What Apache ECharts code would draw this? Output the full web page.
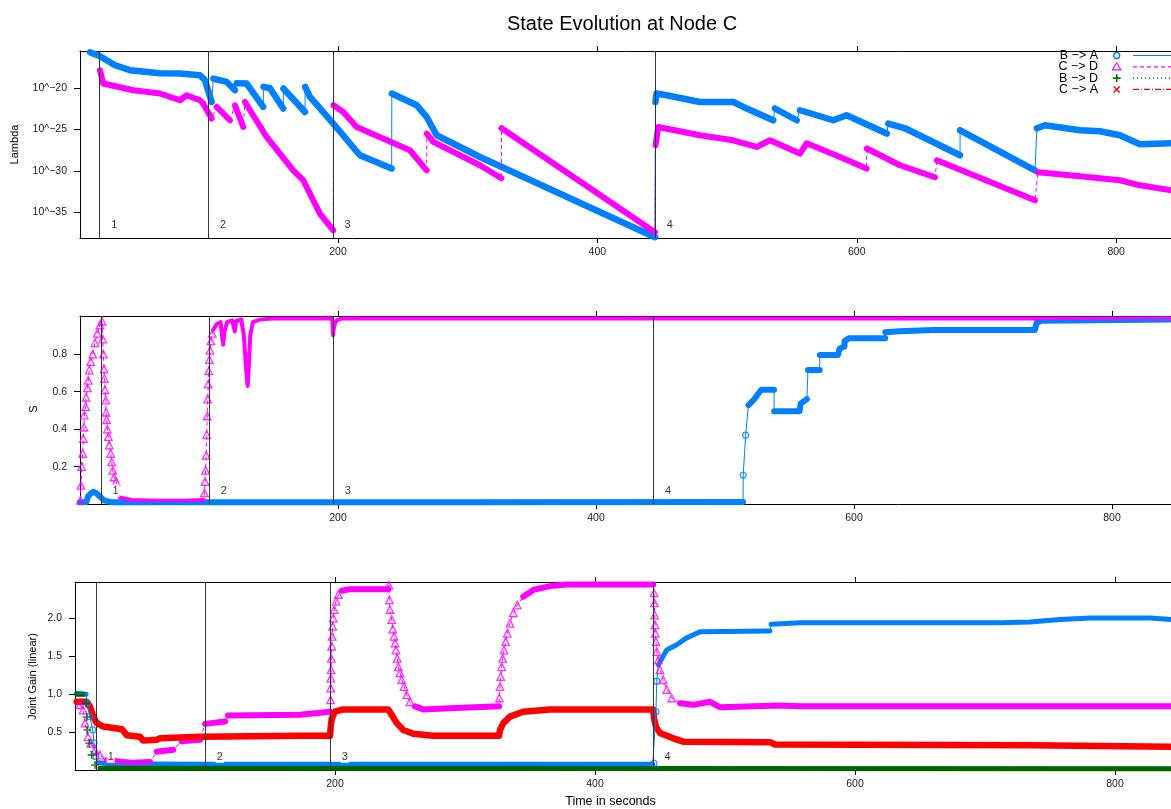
<!DOCTYPE html>
<html>
<head>
<meta charset="utf-8">
<title>State Evolution at Node C</title>
<script src="https://cdn.jsdelivr.net/npm/echarts@6/dist/echarts.min.js"></script>
<style>
  html, body { margin: 0; padding: 0; background: #ffffff; }
  #chart { width: 1171px; height: 809px; }
</style>
</head>
<body>
<div id="chart"></div>
<script>
// ---------- data ----------
const timeTicks = [200, 400, 600, 800];
const lambdaTicks = [-35, -30, -25, -20];
const sTicks = [0.2, 0.4, 0.6, 0.8];
const gainTicks = [0.5, 1.0, 1.5, 2.0];
const eventTimes = [16.3, 100.3, 196.3, 444.7];
const eventLabels = ['1', '2', '3', '4'];
const seriesNames = ['B \u2212> A', 'C \u2212> D', 'B \u2212> D', 'C \u2212> A'];

// Lambda panel: [time (s), log10(lambda)], null = break in the trace
const lambdaBA = [
  [8.8, -15.65], [16.5, -16.13], [28.1, -17.22], [39.6, -17.82], [62.8, -18.19], [78.2, -18.22], [93.6, -18.43], [97.5, -19.03], [102.6, -21.66], null,
  [103.9, -18.83], [114.2, -19.24], [120.6, -20.24], null,
  [121.9, -19.40], [129.6, -19.43], [142.4, -22.26], null,
  [142.5, -19.84], [147.6, -20.0], [157.8, -22.45], null,
  [157.9, -20.04], [174.6, -22.87], null,
  [174.7, -19.84], [178.4, -21.05], [196.4, -24.27], [216.9, -28.10], [241.4, -29.71], null,
  [241.5, -20.64], [260.7, -22.06], [268.4, -23.47], [276.1, -25.68], [309.5, -28.31], [444.4, -38.0], null,
  [444.8, -21.66], [445.6, -20.64], [453.4, -20.85], [479.0, -21.66], [504.8, -21.66], [512.5, -22.26], [535.6, -23.87], null,
  [536.9, -22.45], [553.7, -23.87], null,
  [556.2, -22.66], [581.9, -23.87], [592.2, -23.26], [623.1, -25.48], null,
  [624.3, -24.27], [633.3, -24.68], [637.2, -24.84], [679.6, -28.1], null,
  [679.7, -25.08], [737.4, -29.92], null,
  [738.9, -24.84], [745.1, -24.47], [772.1, -25.08], [787.5, -25.2], [802.9, -25.68], [818.3, -26.77], [845, -26.65]
];
const lambdaCD = [
  [16.5, -17.82], [19.0, -19.43], [42.2, -20.24], [62.8, -20.64], [78.2, -21.45], [83.3, -20.85], [93.6, -21.45], [95.9, -21.81], [102.6, -23.66], null,
  [106.5, -22.26], [116.7, -23.87], null,
  [120.6, -22.06], [127.0, -24.68], null,
  [128.3, -21.66], [145.0, -25.89], [165.5, -29.92], [173.2, -31.12], [186.1, -35.15], [196.4, -37.17], null,
  [196.5, -22.06], [204.1, -22.87], [214.4, -24.68], [255.5, -27.5], [268.4, -29.92], null,
  [268.5, -25.48], [273.5, -26.49], [309.5, -29.31], [326.0, -30.88], null,
  [326.1, -24.84], [444.4, -37.41], null,
  [444.8, -26.9], [446.9, -24.68], [479.1, -25.68], [504.6, -26.29], [522.8, -27.1], [533.1, -26.29], [556.2, -27.9], [561.4, -26.65], [587.1, -28.31], [607.6, -29.71], null,
  [607.7, -27.29], [633.3, -29.31], [660.3, -30.76], null,
  [661.8, -28.71], [737.4, -33.54], null,
  [739.7, -30.16], [772.1, -30.64], [802.9, -31.12], [818.3, -31.73], [845, -32.4]
];

// S panel
const sBA = [
  [0, 0.01], [5, 0.012], [6.2, 0.04], [8, 0.055], [10.3, 0.066], [12.4, 0.06], [15.5, 0.04], [18.6, 0.02], [25, 0.01], [300, 0.01], [514.0, 0.012], null,
  [518.2, 0.528], [522.5, 0.558], [525.9, 0.59], [528.1, 0.61], [538.0, 0.61], null,
  [538.1, 0.496], [557.8, 0.496], [558.7, 0.537], [563.5, 0.56], null,
  [564.3, 0.715], [573.4, 0.715], null,
  [573.5, 0.795], [587.5, 0.795], [588.9, 0.83], [592.6, 0.84], [592.7, 0.87], [596.0, 0.884], [624.2, 0.884], null,
  [624.3, 0.916], [635.6, 0.922], [661.0, 0.928], [740.2, 0.928], [741.6, 0.967], [745.8, 0.978], [845, 0.985]
];
const sBAPts = [[514.1, 0.155], [516.0, 0.368]];
const sCD = [
  [31, 0.035], [40, 0.022], [60, 0.018], [80, 0.018], [96, 0.022], null,
  [103.3, 0.93], [106, 0.96], [109, 0.97], [110, 0.90], [111, 0.85], [112, 0.92], [114, 0.97], [118, 0.98], [120, 0.92], [121, 0.975],
  [125, 0.985], [127, 0.90], [128, 0.80], [129, 0.70], [130, 0.63], [131, 0.75], [132, 0.90], [134, 0.97], [140, 0.985], [150, 0.99],
  [195.5, 0.99], [196.2, 0.90], [196.6, 0.93], [197.5, 0.96], [199, 0.98], [203, 0.99], [845, 0.99]
];
const sCDPts = [
  [0.3, 0.02], [0.8, 0.10], [1.3, 0.20], [2.1, 0.27], [2.6, 0.35], [3.1, 0.41], [3.3, 0.475], [4.4, 0.52], [4.7, 0.57], [5.7, 0.62],
  [6.4, 0.66], [7.2, 0.715], [8.3, 0.76], [9.9, 0.80], [11.6, 0.86], [13.4, 0.91], [15.5, 0.955], [17.1, 0.975],
  [17.6, 0.88], [18.1, 0.80], [18.6, 0.72], [18.9, 0.67], [19.4, 0.61], [20.0, 0.555], [20.2, 0.49], [20.7, 0.45], [21.2, 0.40],
  [22.0, 0.36], [22.7, 0.315], [23.8, 0.27], [24.6, 0.225], [25.4, 0.18], [26.4, 0.145], [28.0, 0.12],
  [96.5, 0.06], [97.0, 0.12], [97.4, 0.18], [97.8, 0.26], [98.2, 0.37], [98.6, 0.47], [99.0, 0.56], [99.4, 0.64], [99.8, 0.71],
  [100.3, 0.77], [100.8, 0.82], [101.5, 0.87], [102.5, 0.91]
];

// Joint gain panel
const gainBA = [
  [1.3, 1.01], [8.5, 1.0], null,
  [17.9, 0.10], [26.9, 0.085], [100, 0.08], [444.4, 0.08], null,
  [448.7, 1.385], [452.5, 1.5], [455.2, 1.58], [462.8, 1.65], [470.5, 1.74], [480.8, 1.82], [534.6, 1.83], null,
  [535.4, 1.92], [557.7, 1.94], [711.5, 1.94], [734.6, 1.95], [757.7, 1.98], [780.8, 2.0], [826.9, 2.0], [845, 1.98]
];
const gainBAPts = [[9.5, 0.88], [11.5, 0.705], [13.6, 0.53], [14.6, 0.36], [16.2, 0.18], [445.4, 0.09], [446.9, 0.77], [447.5, 1.17]];
const gainCD = [
  [24.4, 0.135], [34.6, 0.113], [44.6, 0.10], [57.7, 0.11], null,
  [62.8, 0.245], [75.6, 0.27], null,
  [82.1, 0.38], [96.2, 0.40], null,
  [100.0, 0.61], [115.4, 0.64], null,
  [117.7, 0.72], [173.1, 0.73], [196.2, 0.77], null,
  [205.2, 2.36], [211.5, 2.38], [241, 2.38], null,
  [261.5, 0.84], [267.9, 0.80], [288.5, 0.815], [326.2, 0.84], null,
  [344.8, 2.28], [352.5, 2.37], [365.4, 2.42], [378.2, 2.44], [444.8, 2.44], null,
  [465.4, 0.88], [475.6, 0.86], [488.5, 0.9], [496, 0.83], [542, 0.85], [557.7, 0.84], [845, 0.84]
];
const gainCDPts = [
  [3.8, 0.86], [6.2, 0.79], [7.7, 0.62], [10.0, 0.44], [12.1, 0.355], [15.4, 0.27], [19.2, 0.2],
  [196.6, 0.925], [196.7, 1.08], [196.8, 1.21], [197.0, 1.32], [197.2, 1.47], [197.4, 1.63], [197.8, 1.76], [198.2, 1.89], [198.6, 2.0],
  [199.4, 2.11], [200.8, 2.22], [202.6, 2.31],
  [241.5, 2.43], [241.8, 2.24], [242.3, 2.11], [243.6, 1.98], [244.4, 1.855], [245.4, 1.76], [246.2, 1.67], [246.9, 1.58], [247.9, 1.47],
  [248.7, 1.36], [250, 1.28], [251.3, 1.19], [253.1, 1.1], [255.2, 0.99], [257.7, 0.90],
  [326.4, 0.95], [326.9, 1.1], [327.5, 1.23], [328.2, 1.36], [329, 1.47], [330, 1.58], [331.3, 1.69], [332.5, 1.80], [334.6, 1.93],
  [337.2, 2.07], [340.2, 2.17],
  [445.4, 2.33], [445.6, 2.2], [445.9, 2.04], [446.2, 1.91], [446.4, 1.80], [446.9, 1.69], [447.5, 1.56], [448.7, 1.45], [450, 1.32],
  [452.5, 1.19], [455.2, 1.06], [459, 0.95]
];
const gainBD = [[1.3, 1.0], [6.2, 1.0], null, [19.2, 0.026], [845, 0.02]];
const gainBDPts = [[8.5, 0.88], [9.0, 0.70], [9.5, 0.53], [11, 0.355], [12.8, 0.2], [15.4, 0.07]];
const gainCA = [
  [1.3, 0.90], [9.0, 0.90], [11.5, 0.84], [14.1, 0.705], [16.7, 0.62], [21.8, 0.575], [32.1, 0.55], [36.2, 0.54], [39.8, 0.46], [50, 0.44],
  [52.5, 0.39], [62.8, 0.40], [65.4, 0.42], [96.2, 0.44], [173.1, 0.455], [196.2, 0.455], [196.7, 0.57], [197.5, 0.68], [200, 0.77],
  [206.4, 0.80], [241, 0.80], [243.6, 0.73], [247.5, 0.62], [252.5, 0.53], [260.2, 0.48], [275.6, 0.455], [326.2, 0.455], [326.9, 0.53],
  [329.5, 0.62], [334.6, 0.705], [344.8, 0.77], [365.4, 0.80], [444.8, 0.80], [445.4, 0.68], [446.9, 0.57], [450, 0.49], [460.2, 0.42],
  [467.9, 0.376], [534.6, 0.37], [538.5, 0.34], [734.6, 0.33], [788.5, 0.32], [845, 0.31]
];

// ---------- styling ----------
const FONT = '"Liberation Sans", Arial, Helvetica, sans-serif';
const INK = '#000';
const TXT = '#222';
const CANVAS_W = 1171;

const look = {
  BA: { color: '#0080ff', symbol: 'circle', size: 6, hollow: true, dash: 'solid' },
  CD: { color: '#ff00ff', symbol: 'triangle', size: 7.5, hollow: true, dash: [4, 3] },
  BD: { color: '#006400', symbol: 'path://M-1,-5H1V-1H5V1H1V5H-1V1H-5V-1H-1Z', size: 8, hollow: false, dash: [1, 3] },
  CA: { color: '#ff0000', symbol: 'path://M-1,-5H1V-1H5V1H1V5H-1V1H-5V-1H-1Z', size: 8, rotate: 45, hollow: false, dash: [6, 2, 1, 2] }
};

// each panel runs off the right edge of the page, so its right side has no frame
const panels = [
  { top: 51, height: 187, left: 80, xMin: 1.1, pxPerSec: 1.297, yMin: -38.1, yMax: -15.5, ticks: lambdaTicks,
    fmt: v => '10^' + (v < 0 ? '\u2212' : '') + Math.abs(v) },
  { top: 316, height: 188, left: 80, xMin: 0, pxPerSec: 1.29, yMin: 0.001, yMax: 1.003, ticks: sTicks,
    fmt: v => v.toFixed(1) },
  { top: 582, height: 188, left: 75, xMin: 0, pxPerSec: 1.30, yMin: 0.004, yMax: 2.474, ticks: gainTicks,
    fmt: v => v.toFixed(1) }
];

const grids = [], xAxes = [], yAxes = [], series = [];
const frame = { show: true, onZero: false, lineStyle: { color: INK, width: 1 } };

panels.forEach((p, i) => {
  const w = CANVAS_W - p.left;
  const xMax = p.xMin + w / p.pxPerSec;
  grids.push({ left: p.left, top: p.top, height: p.height, width: w, show: false, containLabel: false });
  ['bottom', 'top'].forEach(pos => {
    xAxes.push({
      type: 'value', gridIndex: i, position: pos, min: p.xMin, max: xMax,
      axisLine: frame,
      splitLine: { show: false },
      axisTick: { show: true, customValues: timeTicks, length: 5, lineStyle: { color: INK, width: 1 } },
      axisLabel: { show: pos === 'bottom', customValues: timeTicks, fontSize: 10.5, color: TXT, fontFamily: FONT, margin: 9 }
    });
  });
  yAxes.push({
    type: 'value', gridIndex: i, min: p.yMin, max: p.yMax,
    axisLine: frame,
    splitLine: { show: false },
    axisTick: { show: true, customValues: p.ticks, length: 6, lineStyle: { color: INK, width: 1 } },
    axisLabel: { show: true, customValues: p.ticks, formatter: p.fmt, fontSize: 10.5, color: TXT, fontFamily: FONT, margin: 13 }
  });

  // event rules, behind the traces
  series.push({
    type: 'scatter', xAxisIndex: i * 2, yAxisIndex: i, z: 1, silent: true,
    data: eventTimes.map(t => [t, p.yMin]),
    symbolSize: 0,
    markLine: {
      silent: true, symbol: 'none', animation: false,
      label: { show: false },
      lineStyle: { color: '#333', width: 1, type: 'solid' },
      data: eventTimes.map(t => ({ xAxis: t }))
    }
  });
});

function addTrace(gi, key, band, pts, bandWidth) {
  const st = look[key];
  const bandData = [];
  let last = null;
  band.forEach(pt => {
    if (pt === null) { bandData.push([last ? last[0] : 0, null]); }
    else { bandData.push(pt); last = pt; }
  });
  series.push({
    type: 'line', xAxisIndex: gi * 2, yAxisIndex: gi, data: bandData, z: 2, silent: true,
    symbol: 'none', showSymbol: false, connectNulls: false,
    lineStyle: { color: st.color, width: bandWidth, cap: 'round', join: 'round' }
  });
  const all = band.filter(pt => pt !== null).concat(pts).sort((a, b) => a[0] - b[0]);
  series.push({
    type: 'line', xAxisIndex: gi * 2, yAxisIndex: gi, data: all, z: 3, silent: true,
    symbol: 'none', showSymbol: false,
    lineStyle: { color: st.color, width: 1, type: st.dash }
  });
  if (pts.length) {
    series.push({
      type: 'scatter', xAxisIndex: gi * 2, yAxisIndex: gi, data: pts, z: 4, silent: true,
      symbol: st.symbol, symbolSize: st.size, symbolRotate: st.rotate || 0,
      itemStyle: st.hollow
        ? { color: 'rgba(255,255,255,0)', borderColor: st.color, borderWidth: 1.3 }
        : { color: st.color }
    });
  }
}

addTrace(0, 'BA', lambdaBA, [], 6.5);
addTrace(0, 'CD', lambdaCD, [], 6);
addTrace(1, 'BA', sBA, sBAPts, 6);
addTrace(1, 'CD', sCD, sCDPts, 4);
addTrace(2, 'BA', gainBA, gainBAPts, 5);
addTrace(2, 'CD', gainCD, gainCDPts, 6);
addTrace(2, 'BD', gainBD, gainBDPts, 5);
addTrace(2, 'CA', gainCA, [], 6.5);

// event numbers, above the traces, just right of each rule near the panel floor
panels.forEach((p, i) => {
  series.push({
    type: 'scatter', xAxisIndex: i * 2, yAxisIndex: i, z: 10, silent: true,
    data: eventTimes.map((t, k) => ({ value: [t, p.yMin], name: eventLabels[k] })),
    symbolSize: 1, itemStyle: { color: 'rgba(0,0,0,0)' },
    label: {
      show: true, position: [15, -13], align: 'center', verticalAlign: 'middle', formatter: d => d.name,
      fontSize: 11, color: INK, fontFamily: FONT, backgroundColor: '#fff', padding: [1, 1]
    },
    labelLayout: { hideOverlap: false }
  });
});

// ---------- legend and free text ----------
const legendRows = [55.5, 66.8, 78.1, 89.4];
const symX = 1116.7, lineX1 = 1133, lineX2 = 1180;
const graphics = [];
const lookKeys = ['BA', 'CD', 'BD', 'CA'];
lookKeys.forEach((k, i) => {
  const y = legendRows[i];
  const c = look[k].color;
  graphics.push({ type: 'text', x: 1098, y: y, silent: true,
    style: { text: seriesNames[i], fill: INK, font: '12.5px ' + FONT, textAlign: 'right', textVerticalAlign: 'middle', align: 'right', verticalAlign: 'middle' } });
  graphics.push({ type: 'line', silent: true, shape: { x1: lineX1, y1: y, x2: lineX2, y2: y },
    style: { stroke: c, lineWidth: 1.2, lineDash: k === 'BA' ? null : look[k].dash } });
  if (k === 'BA') {
    graphics.push({ type: 'circle', silent: true, shape: { cx: symX, cy: y, r: 3 }, style: { fill: 'none', stroke: c, lineWidth: 1.3 } });
  } else if (k === 'CD') {
    graphics.push({ type: 'polygon', silent: true, shape: { points: [[symX, y - 4], [symX - 4.2, y + 3], [symX + 4.2, y + 3]] },
      style: { fill: 'none', stroke: c, lineWidth: 1.2 } });
  } else if (k === 'BD') {
    graphics.push({ type: 'line', silent: true, shape: { x1: symX - 4, y1: y, x2: symX + 4, y2: y }, style: { stroke: c, lineWidth: 1.6 } });
    graphics.push({ type: 'line', silent: true, shape: { x1: symX, y1: y - 4, x2: symX, y2: y + 4 }, style: { stroke: c, lineWidth: 1.6 } });
  } else {
    graphics.push({ type: 'line', silent: true, shape: { x1: symX - 3, y1: y - 3, x2: symX + 3, y2: y + 3 }, style: { stroke: c, lineWidth: 1.4 } });
    graphics.push({ type: 'line', silent: true, shape: { x1: symX - 3, y1: y + 3, x2: symX + 3, y2: y - 3 }, style: { stroke: c, lineWidth: 1.4 } });
  }
});

// axis titles
const yTitles = [
  { text: 'Lambda', x: 15, y: 144.5 },
  { text: 'S', x: 34, y: 409 },
  { text: 'Joint Gain (linear)', x: 32.5, y: 676.5 }
];
yTitles.forEach(t => {
  graphics.push({ type: 'text', x: t.x, y: t.y, rotation: Math.PI / 2, silent: true,
    style: { text: t.text, fill: INK, font: '11px ' + FONT, textAlign: 'center', textVerticalAlign: 'middle', align: 'center', verticalAlign: 'middle' } });
});
graphics.push({ type: 'text', x: 610.5, y: 801.5, silent: true,
  style: { text: 'Time in seconds', fill: INK, font: '12.5px ' + FONT, textAlign: 'center', textVerticalAlign: 'middle', align: 'center', verticalAlign: 'middle' } });

const chart = echarts.init(document.getElementById('chart'), null, { renderer: 'canvas' });
chart.setOption({
  animation: false,
  backgroundColor: '#ffffff',
  title: {
    text: 'State Evolution at Node C', left: 617, top: 9, textAlign: 'center',
    textStyle: { fontSize: 20, fontWeight: 'normal', color: INK, fontFamily: FONT }
  },
  grid: grids,
  xAxis: xAxes,
  yAxis: yAxes,
  series: series,
  graphic: graphics
});
</script>
</body>
</html>
